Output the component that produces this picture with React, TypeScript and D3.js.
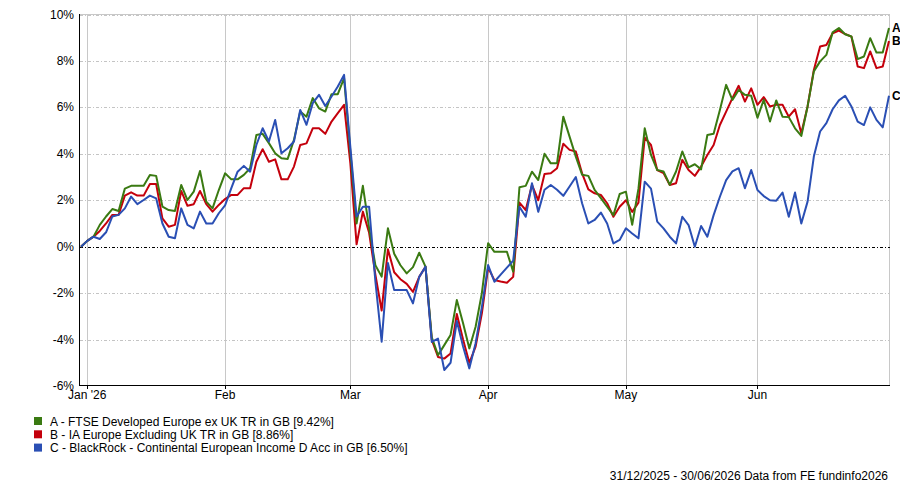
import * as d3 from "d3";

// series: cumulative total return (%) on each trading day, 31/12/2025 - 30/06/2026
const ftseDevEurope = [
  0, 0.25, 0.43, 0.94, 1.3, 1.62, 1.54, 2.5, 2.62, 2.62, 2.62, 3.09, 3.05, 1.73, 1.58, 1.54, 2.66, 2.01, 2.37, 3.26,
  1.94, 1.65, 2.44, 3.16, 2.9, 2.9, 3.09, 3.38, 4.81, 4.86, 4.46, 4.02, 3.81, 3.78, 4.6, 5.82, 5.6, 6.4, 5.96, 5.82,
  6.57, 6.57, 7.26, 4.1, 1.0, 2.62, 0.8, -0.8, -1.29, 0.79, -0.3, -0.8, -1.15, -0.88, -0.26, -0.86, -3.9, -4.67, -4.24, -3.8,
  -2.3, -3.3, -4.38, -3.45, -2.0, 0.15, -0.22, -0.22, -0.22, -1.08, 2.56, 2.62, 3.23, 2.87, 4.0, 3.59, 3.59, 5.6, 4.74, 3.88,
  3.1, 3.05, 2.45, 2.09, 1.72, 1.36, 2.27, 2.37, 0.94, 2.5, 5.1, 3.95, 3.3, 3.24, 2.66, 3.24, 4.1, 3.42, 3.55, 3.33,
  4.81, 4.86, 5.89, 6.97, 6.32, 6.75, 6.54, 6.5, 5.55, 6.33, 5.39, 6.3, 5.6, 5.58, 5.1, 4.77, 6.04, 7.55, 7.98, 8.26,
  9.23, 9.42, 9.15, 9.05, 8.08, 8.19, 8.98, 8.36, 8.36, 9.42,
];
const iaEuropeExUk = [
  0, 0.25, 0.43, 0.68, 1.0, 1.37, 1.37, 2.2, 2.34, 2.2, 2.2, 2.7, 2.7, 1.22, 0.86, 0.94, 2.4, 1.76, 1.83, 2.4,
  1.83, 1.51, 1.8, 2.05, 2.23, 2.23, 2.52, 2.52, 3.66, 4.2, 3.66, 3.76, 2.9, 2.9, 3.45, 4.38, 4.45, 5.1, 5.1, 4.86,
  5.39, 5.75, 6.11, 3.6, 0.1, 1.51, 0.6, -1.2, -2.75, -0.11, -1.1, -1.4, -1.6, -1.95, -1.3, -0.86, -4.0, -4.75, -4.82, -4.6,
  -2.9, -4.0, -5.0, -4.3, -2.87, -0.9, -1.44, -1.5, -1.55, -1.3, 1.9, 1.58, 2.66, 2.0, 3.13, 3.16, 3.38, 4.43, 4.17, 4.1,
  3.16, 2.47, 2.3, 2.23, 1.87, 1.29, 1.72, 2.0, 1.5, 1.9, 4.7, 4.38, 3.3, 3.17, 2.66, 2.73, 3.74, 3.3, 3.05, 3.45,
  3.95, 4.38, 5.24, 5.82, 6.4, 6.93, 6.25, 6.82, 6.11, 6.44, 6.04, 6.11, 6.11, 5.6, 5.92, 4.89, 6.04, 7.61, 8.62, 8.69,
  9.19, 9.31, 9.16, 9.05, 7.76, 7.69, 8.41, 7.69, 7.76, 8.86,
];
const blackrockIncome = [
  0, 0.25, 0.43, 0.33, 0.62, 1.3, 1.37, 1.65, 2.16, 1.83, 2.01, 2.2, 2.08, 1.0, 0.43, 0.36, 1.65, 0.94, 0.79, 1.51,
  1.0, 1.0, 1.44, 1.78, 2.52, 3.23, 3.48, 3.23, 4.38, 5.1, 4.53, 5.46, 4.02, 4.24, 4.53, 5.89, 5.25, 6.18, 6.54, 6.06,
  6.47, 6.9, 7.4, 4.3, 1.3, 1.72, 1.72, -1.5, -4.09, -0.7, -1.87, -1.87, -1.87, -2.44, -1.3, -0.86, -4.1, -3.96, -5.31, -5.0,
  -3.2, -4.3, -5.24, -4.16, -2.6, -0.79, -1.51, -1.2, -0.9, -0.6, 1.72, 1.29, 2.73, 1.5, 2.45, 2.66, 2.45, 2.19, 2.59, 3.0,
  1.87, 1.0, 1.15, 1.47, 1.0, 0.14, 0.29, 0.79, 0.57, 0.36, 2.8, 2.5, 1.08, 0.79, 0.43, 0.14, 1.29, 0.93, 0.0, 0.89,
  0.43, 1.36, 2.15, 2.87, 3.24, 3.38, 2.52, 3.3, 2.44, 2.18, 2.0, 1.98, 2.33, 1.29, 2.33, 1.0, 1.94, 3.88, 4.96, 5.32,
  5.92, 6.3, 6.5, 6.04, 5.39, 5.24, 6.0, 5.46, 5.14, 6.5,
];

const seriesKeys = ["A", "B", "C"];
const seriesNames = [
  "A - FTSE Developed Europe ex UK TR in GB [9.42%]",
  "B - IA Europe Excluding UK TR in GB [8.86%]",
  "C - BlackRock - Continental European Income D Acc in GB [6.50%]",
];
const seriesColors = ["#3a7a12", "#c4000c", "#2a4fb4"];
const seriesValues = [ftseDevEurope, iaEuropeExUk, blackrockIncome];

const monthLabels = ["Jan '26", "Feb", "Mar", "Apr", "May", "Jun"];
const monthStarts = ["2026-01-01", "2026-02-01", "2026-03-01", "2026-04-01", "2026-05-01", "2026-06-01"];
const yTicks = [-6, -4, -2, 0, 2, 4, 6, 8, 10];
const footer = "31/12/2025 - 30/06/2026 Data from FE fundinfo2026";

// weekday calendar used as the x axis
const tradingDays = d3
  .timeDay.range(new Date(2025, 11, 31), new Date(2026, 6, 1))
  .filter(d => d.getDay() !== 0 && d.getDay() !== 6);

const W = 900;
const H = 484;
const left = 79.5;
const right = 889.5;
const top = 14.5;
const bottom = 385.5;
const font = "'Liberation Sans', Arial, sans-serif";

const App = () => {
  const x = d3.scaleLinear().domain([0, tradingDays.length - 1]).range([81, 889]);
  const y = d3.scaleLinear().domain([-6, 10]).range([386, 14.5]);

  const line = d3
    .line<number>()
    .x((_, i) => x(i))
    .y(d => y(d));

  const monthIdx = monthStarts.map(s => {
    const t = d3.timeParse("%Y-%m-%d")(s)!;
    return tradingDays.findIndex(d => d >= t);
  });

  // draw order: B, A, C
  const order = [1, 0, 2];

  return (
    <svg
      width={W}
      height={H}
      style={{position: "absolute", left: 0, top: 0, display: "block", background: "#fff"}}
      fontFamily={font}
    >
      {/* vertical month grid */}
      {monthIdx.map((mi, k) => (
        <line key={"vg" + k} x1={Math.round(x(mi)) + 0.5} x2={Math.round(x(mi)) + 0.5} y1={top} y2={bottom}
              stroke="#c8c8c8" strokeWidth={1} shapeRendering="crispEdges"/>
      ))}
      {/* horizontal grid */}
      {yTicks.filter(t => t !== 0 && t !== -6).map(t => (
        <line key={"hg" + t} x1={left} x2={right} y1={Math.round(y(t)) + 0.5} y2={Math.round(y(t)) + 0.5}
              stroke="#c4c4c4" strokeDasharray="3,2,1,2" shapeRendering="crispEdges"/>
      ))}
      {/* frame */}
      <line x1={left} x2={right} y1={top} y2={top} stroke="#c8c8c8" shapeRendering="crispEdges"/>
      <line x1={right} x2={right} y1={top} y2={bottom} stroke="#c8c8c8" shapeRendering="crispEdges"/>
      {/* zero line */}
      <line x1={left} x2={right} y1={Math.round(y(0)) + 0.5} y2={Math.round(y(0)) + 0.5}
            stroke="#000" strokeDasharray="3,2,1,2" shapeRendering="crispEdges"/>

      {/* series */}
      {order.map(k => (
        <path key={"s" + k} d={line(seriesValues[k]) || ""} fill="none" stroke={seriesColors[k]}
              strokeWidth={2} strokeLinejoin="round"/>
      ))}

      {/* axes */}
      <line x1={left} x2={left} y1={top - 0.5} y2={bottom} stroke="#000" shapeRendering="crispEdges"/>
      <line x1={left} x2={right} y1={bottom} y2={bottom} stroke="#000" shapeRendering="crispEdges"/>

      {yTicks.map(t => (
        <text key={"yl" + t} x={74} y={y(t) + 4} fontSize={12} textAnchor="end" fill="#000">{t}%</text>
      ))}
      {monthIdx.map((mi, k) => (
        <g key={"xt" + k}>
          <line x1={Math.round(x(mi)) + 0.5} x2={Math.round(x(mi)) + 0.5} y1={bottom} y2={bottom + 3}
                stroke="#000" shapeRendering="crispEdges"/>
          <text x={x(mi)} y={399} fontSize={12} textAnchor="middle" fill="#000">{monthLabels[k]}</text>
        </g>
      ))}

      {/* end labels */}
      {seriesKeys.map((key, k) => (
        <text key={"el" + k} x={892} y={y(seriesValues[k][seriesValues[k].length - 1]) + 4}
              fontSize={12} fontWeight="bold" fill="#000">{key}</text>
      ))}

      {/* legend */}
      {seriesNames.map((name, k) => (
        <g key={"lg" + k} transform={`translate(34, ${417 + k * 13.3})`}>
          <rect x={0} y={0} width={8} height={8} fill={seriesColors[k]}/>
          <text x={16} y={8.5} fontSize={12} fill="#000">{name}</text>
        </g>
      ))}

      <text x={888} y={480} fontSize={12} textAnchor="end" fill="#000">{footer}</text>
    </svg>
  );
};

export default App;
